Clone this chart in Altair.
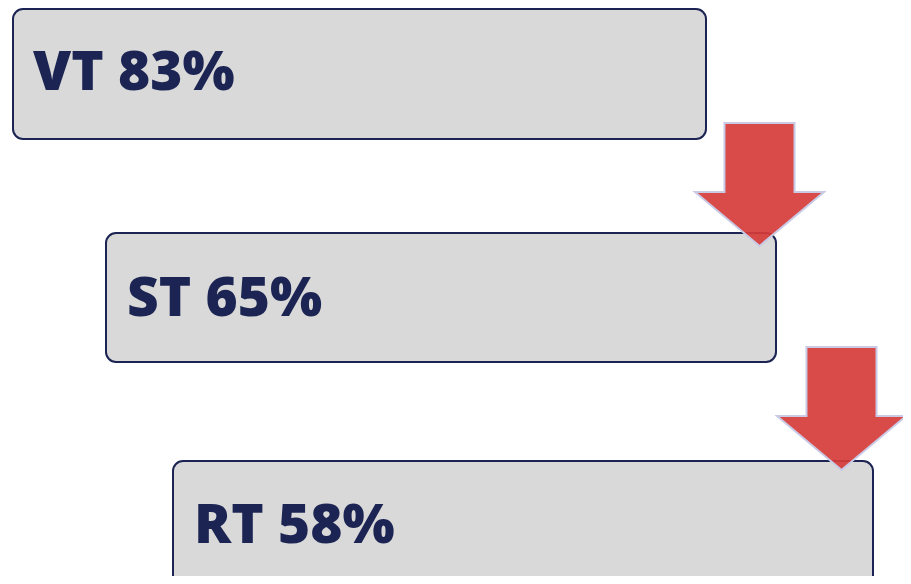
import altair as alt
import pandas as pd

# ---- data ----
labels = ["VT", "ST", "RT"]
values = [83, 65, 58]

# ---- layout (page pixel coordinates) ----
box_left = [13, 106, 173]
box_right = [706, 776, 873]
box_top = [9, 233, 461]
box_bottom = [139, 362, 620]
text_x = [33, 127, 194]
text_base = [90, 316, 543]

arrow_x = [759.5, 841.5]
arrow_y = [184.5, 408.5]

W, H = 895, 568

boxes = pd.DataFrame({
    "label": [f"{l} {v}%" for l, v in zip(labels, values)],
    "x": box_left, "x2": box_right, "y": box_top, "y2": box_bottom,
    "tx": text_x, "ty": text_base,
})
arrows = pd.DataFrame({"x": arrow_x, "y": arrow_y})

xs = alt.Scale(domain=[8, 8 + W], nice=False, zero=False)
ys = alt.Scale(domain=[8, 8 + H], nice=False, zero=False, reverse=True)

rects = alt.Chart(boxes).mark_rect(
    cornerRadius=10, fill="#d9d9d9", stroke="#1b2452", strokeWidth=2, clip=True
).encode(
    x=alt.X("x:Q", scale=xs, axis=None),
    x2="x2:Q",
    y=alt.Y("y:Q", scale=ys, axis=None),
    y2="y2:Q",
)

texts = alt.Chart(boxes).mark_text(
    align="left", baseline="alphabetic", font="Open Sans", fontWeight=800,
    fontSize=55, color="#1b2452"
).encode(
    x=alt.X("tx:Q", scale=xs, axis=None),
    y=alt.Y("ty:Q", scale=ys, axis=None),
    text="label:N",
)

arrow_path = ("M -0.543 -0.953 L 0.543 -0.953 L 0.543 0.116 L 1 0.116 "
              "L 0 0.953 L -1 0.116 L -0.543 0.116 Z")

arrow_marks = alt.Chart(arrows).mark_point(
    shape=arrow_path, size=129 * 129, filled=True, fill="#d63c39",
    fillOpacity=0.92, stroke="#c9cbe6", strokeWidth=2, strokeOpacity=1, opacity=1
).encode(
    x=alt.X("x:Q", scale=xs, axis=None),
    y=alt.Y("y:Q", scale=ys, axis=None),
)

chart = alt.layer(rects, texts, arrow_marks).properties(
    width=W, height=H, padding=0, autosize=alt.AutoSizeParams(type="none"),
    background="white",
).configure_view(strokeWidth=0)

chart.save("out.html", embed_options={"renderer": "svg", "actions": False})
